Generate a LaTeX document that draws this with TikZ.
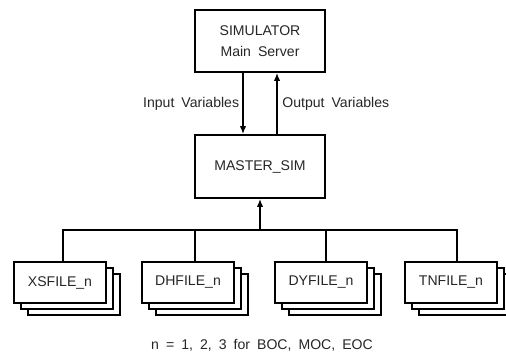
\documentclass[tikz,border=0pt]{standalone}
\usepackage{fontspec}
\setmainfont{Liberation Sans}[WordSpace=1.8]
\usetikzlibrary{arrows.meta, shadows}

\begin{document}
\begin{tikzpicture}[
  x=0.025cm, y=-0.025cm,
  font=\fontsize{10}{15}\selectfont, text=black!85,
  box/.style={rectangle, draw=black, line width=1.2pt, fill=white, minimum width=3.25cm, minimum height=1.55cm, align=center, inner sep=0pt},
  filebox/.style={box, minimum width=2.3cm, minimum height=1.025cm,
    copy shadow={shadow xshift=0.35cm, shadow yshift=-0.3cm},
    copy shadow={shadow xshift=0.175cm, shadow yshift=-0.15cm}},
  conn/.style={draw, line width=1.6pt},
  arr/.style={conn, -{Latex[length=0.2cm, width=0.16cm]}},
]
  \useasboundingbox (0,0) rectangle (506,353);

  % ── Server and master ──────────────────────
  \node[box] (sim) at (260,41) {SIMULATOR\\Main Server};
  \node[box, minimum height=1.575cm] (master) at (260,166.5) {MASTER\_SIM};

  \draw[arr] ([xshift=-0.425cm]sim.south) -- node[left, inner sep=2pt] {Input Variables} ([xshift=-0.425cm]master.north);
  \draw[arr] ([xshift=0.425cm]master.north) -- node[right, inner sep=3pt] {Output Variables} ([xshift=0.425cm]sim.south);

  % ── File stacks ────────────────────────────
  \foreach \nm/\x/\lbl in {xs/60/XSFILE\_n, dh/188/DHFILE\_n, dy/321/DYFILE\_n, tn/451/TNFILE\_n}
    \node[filebox] (\nm) at (\x,282.5) {\lbl};

  % ── Bus ────────────────────────────────────
  \coordinate (bus) at (260,230);
  \draw[conn] ([xshift=0.075cm]xs.north) |- (bus) -| ([xshift=0.15cm]tn.north);
  \draw[conn] ([xshift=0.175cm]dh.north) |- (bus);
  \draw[conn] ([xshift=0.125cm]dy.north) |- (bus);
  \draw[arr] (bus) -- (master.south);

  \node (note) at (262,345) {n = 1, 2, 3 for BOC, MOC, EOC};

\end{tikzpicture}
\end{document}
